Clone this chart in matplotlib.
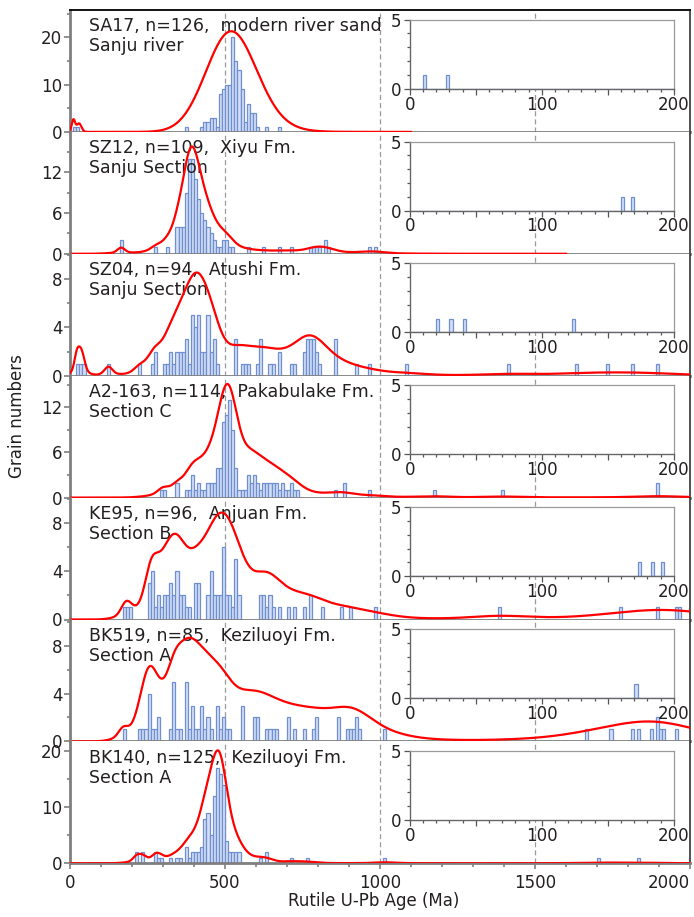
import numpy as np
import matplotlib
matplotlib.use("Agg")
import matplotlib.pyplot as plt
from matplotlib.ticker import MultipleLocator

# panel labels (two lines each)
titles = [
    "SA17, n=126,  modern river sand\nSanju river",
    "SZ12, n=109,  Xiyu Fm.\nSanju Section",
    "SZ04, n=94,  Atushi Fm.\nSanju Section",
    "A2-163, n=114,  Pakabulake Fm.\nSection C",
    "KE95, n=96,  Anjuan Fm.\nSection B",
    "BK519, n=85,  Keziluoyi Fm.\nSection A",
    "BK140, n=125,  Keziluoyi Fm.\nSection A",
]

# young grains (< 200 Ma), shown in the insets too
sa17_young = [11, 29]
sz12_young = [161, 169]
sz04_young = [21, 31, 41, 124]
a2_young = []
ke95_young = [173, 183, 191]
bk519_young = [171]
bk140_young = []

# older grains as 10 Ma bins: bin start (Ma) and grain count
sa17_bins = [370, 420, 430, 440, 450, 460, 470, 480, 490, 500, 510, 520, 530, 540, 550,
             560, 570, 580, 590, 600, 630, 670]
sa17_counts = [1, 1, 2, 2, 3, 3, 1, 8, 9, 10, 10, 20, 15, 13, 9,
               2, 6, 4, 4, 1, 1, 1]

sz12_bins = [270, 310, 340, 350, 360, 370, 380, 390, 400, 410, 420, 430, 440, 450, 460,
             470, 480, 490, 500, 510, 520, 570, 620, 670, 710, 770, 780, 790, 800, 820,
             830, 960, 980]
sz12_counts = [1, 1, 4, 4, 4, 9, 14, 14, 11, 8, 6, 5, 4, 3, 2,
               1, 1, 2, 2, 1, 1, 1, 1, 1, 1, 1, 1, 1, 1, 2,
               1, 1, 1]

sz04_bins = [220, 260, 270, 300, 310, 320, 330, 340, 350, 360, 370, 380, 390, 400, 410,
             420, 430, 440, 450, 460, 470, 530, 550, 560, 570, 600, 610, 640, 650, 670,
             710, 720, 750, 760, 770, 780, 790, 800, 850, 920, 960, 1080, 1410, 1630,
             1730, 1810, 1890]
sz04_counts = [1, 1, 2, 1, 1, 2, 1, 2, 2, 2, 3, 1, 5, 4, 5,
               2, 2, 5, 2, 3, 1, 3, 1, 1, 1, 1, 3, 1, 1, 2,
               1, 1, 2, 3, 3, 3, 2, 1, 3, 1, 1, 1, 1, 1,
               1, 1, 1]

a2_bins = [290, 300, 340, 370, 380, 390, 400, 410, 420, 430, 440, 450, 460, 470, 480,
           490, 500, 510, 520, 530, 540, 550, 560, 570, 580, 590, 600, 610, 620, 630,
           640, 650, 660, 670, 680, 690, 700, 710, 720, 730, 850, 880, 960, 1170, 1390,
           1890]
a2_counts = [1, 1, 2, 1, 1, 3, 1, 2, 1, 1, 2, 2, 2, 4, 4,
             10, 11, 13, 9, 4, 1, 1, 1, 3, 2, 3, 2, 1, 2, 2,
             2, 2, 2, 1, 2, 1, 1, 2, 1, 1, 1, 2, 1, 1, 1,
             2]

ke95_bins = [250, 260, 270, 280, 290, 300, 310, 320, 330, 340, 350, 360, 370, 380, 400,
             410, 440, 450, 460, 470, 480, 490, 500, 510, 520, 530, 540, 610, 620, 630,
             640, 650, 670, 700, 720, 750, 770, 810, 870, 900, 980, 1380, 1770, 1890,
             1950, 1960]
ke95_counts = [3, 4, 1, 2, 1, 2, 2, 3, 2, 4, 2, 2, 1, 1, 3,
               3, 2, 4, 2, 2, 2, 6, 2, 2, 1, 5, 2, 2, 2, 1,
               2, 1, 1, 1, 1, 1, 2, 1, 1, 1, 1, 1, 1, 1,
               1, 1]

bk519_bins = [220, 230, 240, 250, 260, 270, 280, 320, 330, 340, 350, 370, 380, 390, 400,
              410, 420, 430, 440, 450, 470, 480, 490, 500, 510, 550, 590, 600, 630, 640,
              650, 660, 700, 720, 750, 780, 790, 860, 890, 900, 910, 920, 930, 1010, 1660,
              1740, 1810, 1830, 1870, 1890, 1900, 1910, 1950]
bk519_counts = [1, 1, 1, 4, 1, 1, 2, 1, 5, 1, 1, 5, 1, 3, 1,
                1, 3, 1, 2, 1, 3, 1, 2, 1, 1, 3, 2, 2, 1, 1,
                1, 1, 2, 1, 1, 1, 2, 2, 1, 1, 1, 2, 1, 1, 1,
                1, 1, 1, 1, 2, 1, 1, 1]

bk140_bins = [210, 230, 270, 280, 290, 320, 340, 350, 370, 380, 390, 400, 410, 420, 430,
              440, 450, 460, 470, 480, 490, 500, 510, 520, 530, 540, 610, 630, 710, 760,
              1010, 1700, 1830]
bk140_counts = [2, 2, 2, 1, 1, 1, 1, 1, 3, 1, 2, 2, 2, 3, 8,
                9, 5, 12, 17, 16, 14, 4, 2, 2, 2, 2, 1, 2, 1, 1,
                1, 1, 1]

curve_peak = [21.3, 15.8, 8.55, 15.1, 8.86, 8.67, 20.2]
curve_end = [1100, 1600, 2000, 2000, 2000, 2000, 2000]
# kernel: narrow part width = kern_abs + kern_rel * age, wide part = kern_wide * narrow
kern_abs = [4, 6, 6, 5, 3, 4, 5]
kern_rel = [0.13, 0.03, 0.05, 0.035, 0.06, 0.06, 0.03]
kern_frac = [1.0, 0.55, 0.6, 0.5, 0.6, 0.55, 0.6]
kern_wide = [1.0, 3.5, 2.5, 3.5, 2.5, 2.5, 3.0]
# grain weight = (age / 500) ** kern_pow
kern_pow = [0.0, 0.0, 0.0, 0.0, 0.6, 0.3, 0.0]

# y axes
y_max = [25.8, 17.95, 10.1, 16.2, 10.1, 10.2, 21.8]
y_major = [10, 6, 4, 6, 4, 4, 10]
y_minor = [5, 3, 2, 3, 2, 2, 5]

young_all = [sa17_young, sz12_young, sz04_young, a2_young, ke95_young, bk519_young, bk140_young]
bins_all = [sa17_bins, sz12_bins, sz04_bins, a2_bins, ke95_bins, bk519_bins, bk140_bins]
counts_all = [sa17_counts, sz12_counts, sz04_counts, a2_counts, ke95_counts, bk519_counts, bk140_counts]

BAR_FACE = "#d3def4"
BAR_EDGE = "#6f8fd2"
TXT = "#231f20"
SPINE = "#7f7f7f"


def grain_ages(young, bins, counts):
    old = np.repeat(np.array(bins, dtype=float) + 5, counts)
    return np.concatenate([np.array(young, dtype=float), old])


def gauss_sum(x, ages, sig, w):
    d = np.exp(-0.5 * ((x[:, None] - ages[None, :]) / sig[None, :]) ** 2) * (w / sig)[None, :]
    return d.sum(axis=1)


def density_curve(ages, i):
    x = np.linspace(0, curve_end[i], 2001)
    sig = kern_abs[i] + kern_rel[i] * ages
    w = (ages / 500.0) ** kern_pow[i]
    y = kern_frac[i] * gauss_sum(x, ages, sig, w)
    if kern_frac[i] < 1:
        y += (1 - kern_frac[i]) * gauss_sum(x, ages, sig * kern_wide[i], w)
    return x, y / y.max() * curve_peak[i]


def style_inset(ax_in):
    ax_in.set_xlim(0, 200)
    ax_in.set_ylim(0, 5)
    ax_in.set_xticks([0, 50, 100, 150, 200], labels=["0", "", "100", "", "200"])
    ax_in.xaxis.set_minor_locator(MultipleLocator(10))
    ax_in.set_yticks([0, 5])
    ax_in.yaxis.set_minor_locator(MultipleLocator(1))
    ax_in.tick_params(which="both", direction="out", color="#555555", width=0.9,
                      labelsize=12, labelcolor=TXT)
    ax_in.tick_params(which="major", length=4.5)
    ax_in.tick_params(which="minor", length=2.5)
    ax_in.tick_params(axis="x", pad=0.5)
    ax_in.tick_params(axis="y", pad=1.5)
    for s in ["left", "bottom"]:
        ax_in.spines[s].set_color("#666666")
        ax_in.spines[s].set_linewidth(1.0)
    for s in ["top", "right"]:
        ax_in.spines[s].set_color("#9a9a9a")
        ax_in.spines[s].set_linewidth(0.9)
    ax_in.set_facecolor("white")


def main():
    plt.rcParams["font.family"] = ["DejaVu Sans"]
    plt.rcParams["font.size"] = 12

    fig = plt.figure(figsize=(6.94, 9.17), dpi=100)
    W, H = 694.0, 917.0
    left = 70 / W
    width = 620 / W
    top_px = 10.0
    panel_px = 121.9

    for i in range(7):
        bottom = (H - top_px - (i + 1) * panel_px) / H
        ax = fig.add_axes([left, bottom, width, panel_px / H])

        ages = grain_ages(young_all[i], bins_all[i], counts_all[i])
        ax.hist(ages, bins=np.arange(0, 2001, 10), facecolor=BAR_FACE, edgecolor=BAR_EDGE,
                linewidth=0.9, zorder=2)

        x, y = density_curve(ages, i)
        ax.plot(x, y, color="#ff0000", linewidth=1.6, zorder=4)

        for v in (500, 1000, 1500):
            ax.axvline(v, color="#9a9a9a", linewidth=0.9, linestyle=(0, (4, 2.5)), zorder=1)

        ax.set_xlim(0, 2000)
        ax.set_ylim(0, y_max[i])
        ax.yaxis.set_major_locator(MultipleLocator(y_major[i]))
        ax.yaxis.set_minor_locator(MultipleLocator(y_minor[i]))
        ax.tick_params(axis="y", which="both", direction="out", color=SPINE, width=1.2,
                       labelsize=12, labelcolor=TXT, pad=1)
        ax.tick_params(axis="y", which="major", length=4.5)
        ax.tick_params(axis="y", which="minor", length=2.5)

        ax.spines["left"].set_color(SPINE)
        ax.spines["left"].set_linewidth(2.0)
        ax.spines["bottom"].set_color(SPINE)
        ax.spines["bottom"].set_linewidth(2.0)
        ax.spines["right"].set_color("#333333")
        ax.spines["right"].set_linewidth(1.2)
        if i == 0:
            ax.spines["top"].set_color("#111111")
            ax.spines["top"].set_linewidth(1.4)
        else:
            ax.spines["top"].set_visible(False)

        if i == 6:
            ax.set_xticks([0, 500, 1000, 1500, 2000])
            ax.xaxis.set_minor_locator(MultipleLocator(100))
            ax.tick_params(axis="x", which="both", direction="out", color=SPINE, width=1.2,
                           labelsize=12, labelcolor=TXT, pad=3)
            ax.tick_params(axis="x", which="major", length=4.5)
            ax.tick_params(axis="x", which="minor", length=3)
            ax.get_xticklabels()[-1].set_horizontalalignment("right")
        else:
            ax.tick_params(axis="x", which="both", bottom=False, labelbottom=False)

        ax.text(0.031, 0.94, titles[i], transform=ax.transAxes, ha="left", va="top",
                fontsize=12.5, color=TXT, linespacing=1.15, zorder=3)

        ax_in = ax.inset_axes([0.548, 0.355, 0.426, 0.566])
        if len(young_all[i]) > 0:
            ax_in.hist(young_all[i], bins=np.arange(0, 200.1, 2.5), facecolor=BAR_FACE,
                       edgecolor=BAR_EDGE, linewidth=0.9)
        style_inset(ax_in)

    fig.text(17.5 / W, 1 - 416 / H, "Grain numbers", rotation=90, ha="center", va="center",
             fontsize=12, color=TXT)
    fig.text(374 / W, 1 - 901 / H, "Rutile U-Pb Age (Ma)", ha="center", va="center",
             fontsize=12, color=TXT)

    fig.savefig("out.png", dpi=100)
    plt.close(fig)


if __name__ == "__main__":
    main()
